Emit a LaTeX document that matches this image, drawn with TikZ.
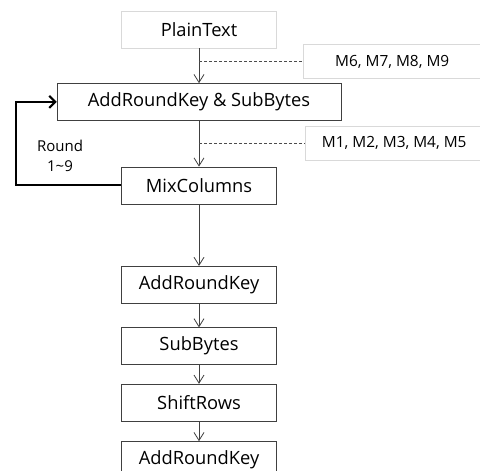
\documentclass[tikz,border=0pt]{standalone}
\usepackage{fontspec}
\setmainfont{Open Sans}
\usetikzlibrary{arrows.meta, positioning}

\begin{document}
\begin{tikzpicture}[x=1pt, y=-1pt, >={Straight Barb[length=8pt,width=10pt]},
  stage/.style={draw=black!75, minimum width=155pt, minimum height=37pt, inner sep=0pt, font=\fontsize{18.3}{22}\selectfont},
  note/.style={draw=black!15, minimum width=178pt, minimum height=34pt, inner sep=0pt, font=\fontsize{15.4}{18}\selectfont},
  flow/.style={->, draw=black!75, line width=0.8pt},
  tap/.style={draw=black!70, densely dashed, line width=0.6pt}]
\clip (0,0) rectangle (480,471);
% main chain
\node[stage, draw=black!15] (plain) at (199,29.5) {PlainText};
\node[stage, minimum width=284pt, below=35pt of plain] (ark) {AddRoundKey \& SubBytes};
\node[stage, below=46pt of ark] (mix) {MixColumns};
\node[stage, below=62pt of mix] (ark1) {AddRoundKey};
\node[stage, below=24pt of ark1] (sub) {SubBytes};
\node[stage, below=19pt of sub] (shift) {ShiftRows};
\node[stage, below=20pt of shift] (ark2) {AddRoundKey};
\draw[flow] (plain) -- (ark);
\draw[flow] (ark) -- (mix);
\draw[flow] (mix) -- (ark1);
\draw[flow] (ark1) -- (sub);
\draw[flow] (sub) -- (shift);
\draw[flow] (shift) -- (ark2);
% round loop
\draw[line width=2.2pt, -{Straight Barb[length=6pt,width=12pt]}] (mix.west) -- ++(-105pt,0) |- (ark.west);
\node[font=\fontsize{15}{20}\selectfont, align=center] (round) at (60,156) {Round\\1\textasciitilde9};
% leaked values
\node[note, anchor=west] (m69) at (303,61.5) {M6, M7, M8, M9};
\node[note, anchor=west] (m15) at (305,143) {M1, M2, M3, M4, M5};
\coordinate (t1) at (199,61.5);
\coordinate (t2) at (199,143);
\draw[tap] (t1) -- (m69.west);
\draw[tap] (t2) -- (m15.west);
\end{tikzpicture}
\end{document}
